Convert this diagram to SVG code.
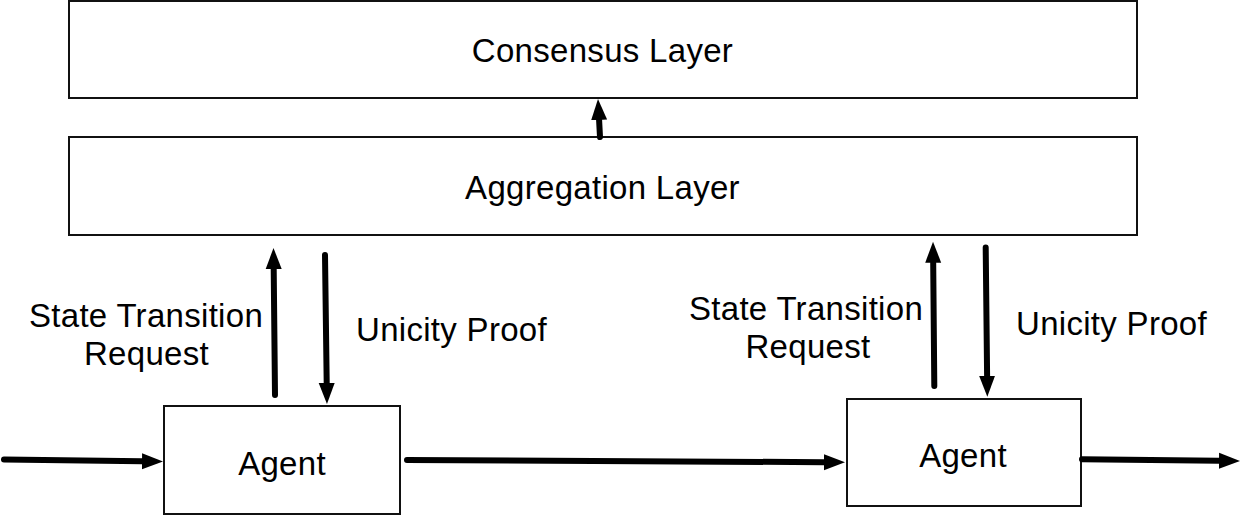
<svg xmlns="http://www.w3.org/2000/svg" width="1245" height="531" viewBox="0 0 1245 531">
<style>
.box{fill:#fff;stroke:#111;stroke-width:2}
.lbl{font-family:"Liberation Sans",Arial,Helvetica,sans-serif;font-size:33px;letter-spacing:0.3px;fill:#000}
.mid{text-anchor:middle}
.arr{stroke:#000;stroke-width:6;stroke-linecap:round;fill:none;marker-end:url(#ah)}
</style>
<defs>
<marker id="ah" markerUnits="userSpaceOnUse" markerWidth="22" markerHeight="18" viewBox="0 0 22 18" refX="0" refY="9" orient="auto">
<path d="M0,1 L21,9 L0,17 z" fill="#000"/>
</marker>
</defs>
<rect width="1245" height="531" fill="#fff"/>
<g id="consensus">
<rect class="box" x="69" y="1" width="1068" height="97"/>
<text class="lbl mid" x="602.5" y="62">Consensus Layer</text>
</g>
<g id="aggregation">
<rect class="box" x="69" y="137" width="1068" height="98"/>
<text class="lbl mid" x="602.5" y="199">Aggregation Layer</text>
</g>
<g id="agent1">
<rect class="box" x="164" y="406" width="236" height="108"/>
<text class="lbl mid" x="282" y="475">Agent</text>
</g>
<g id="agent2">
<rect class="box" x="847" y="399" width="234" height="107"/>
<text class="lbl mid" x="963" y="467">Agent</text>
</g>
<g id="connectors">
<line class="arr" x1="600" y1="137" x2="599.1" y2="120"/>
<line class="arr" x1="275" y1="395" x2="273.7" y2="269"/>
<line class="arr" x1="325" y1="255" x2="326.7" y2="383"/>
<line class="arr" x1="4" y1="459.5" x2="142" y2="461.2"/>
<line class="arr" x1="407" y1="460" x2="824" y2="462.2"/>
<line class="arr" x1="934.3" y1="386" x2="933.2" y2="262.7"/>
<line class="arr" x1="985.7" y1="247.5" x2="987.1" y2="375.7"/>
<line class="arr" x1="1082" y1="459.3" x2="1219" y2="460.8"/>
</g>
<g id="labels">
<text class="lbl mid" x="146" y="327">State Transition</text>
<text class="lbl mid" x="146.5" y="365">Request</text>
<text class="lbl" x="356" y="341">Unicity Proof</text>
<text class="lbl mid" x="806" y="320">State Transition</text>
<text class="lbl mid" x="808" y="358">Request</text>
<text class="lbl" x="1016" y="335">Unicity Proof</text>
</g>
</svg>
